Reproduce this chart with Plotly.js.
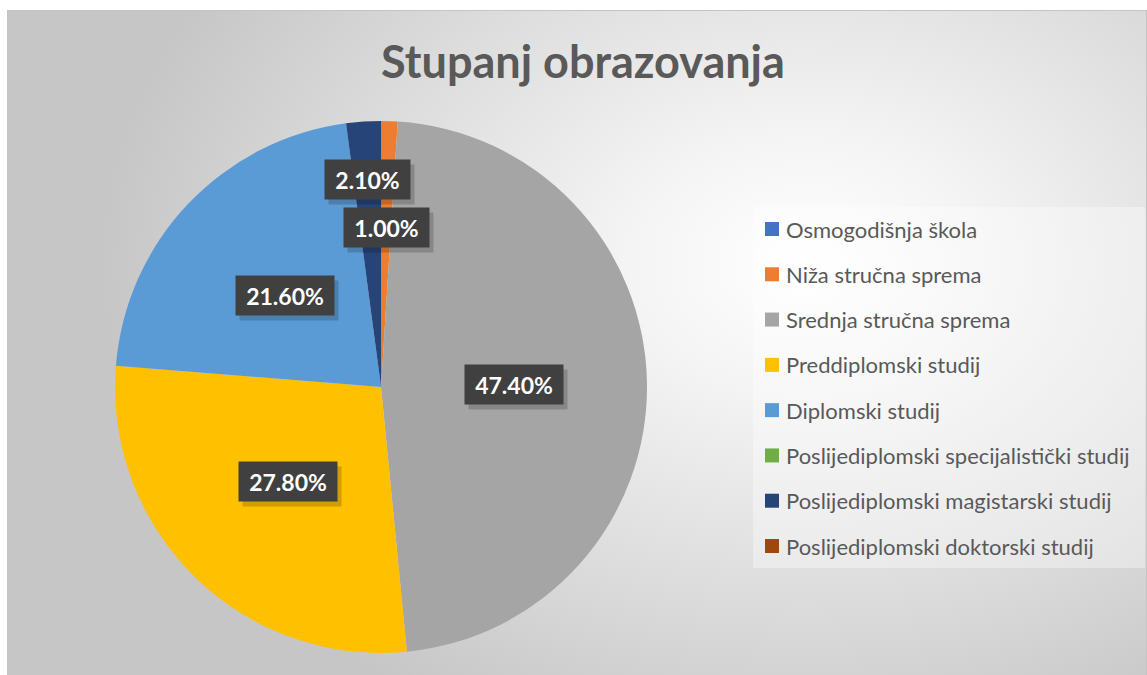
<!DOCTYPE html>
<html>
<head>
<meta charset="utf-8">
<script src="https://cdn.plot.ly/plotly-3.0.1.min.js"></script>
<style>
  html, body { margin:0; padding:0; background:#ffffff; }
  #bg { position:absolute; left:7px; top:10px; width:1138px; height:664px;
        border:1px solid #c4c4c4;
        background: radial-gradient(ellipse 62% 78% at 70% 38%, #ffffff 0%, #f4f4f4 25%, #dcdcdc 65%, #c6c6c6 100%); }
  #chart { position:absolute; left:0; top:0; width:1147px; height:675px; }
</style>
</head>
<body>
<div id="bg"></div>
<div id="chart"></div>
<script>
const categories = [
  "Osmogodišnja škola",
  "Niža stručna sprema",
  "Srednja stručna sprema",
  "Preddiplomski studij",
  "Diplomski studij",
  "Poslijediplomski specijalistički studij",
  "Poslijediplomski magistarski studij",
  "Poslijediplomski doktorski studij"
];
const values = [0, 1.0, 47.4, 27.8, 21.6, 0, 2.1, 0];
const colors = ["#4472C4", "#ED7D31", "#A5A5A5", "#FFC000", "#5B9BD5", "#70AD47", "#264478", "#9E480E"];
const chartTitle = "Stupanj obrazovanja";

const W = 1147, H = 675;
const FONT = "Lato, 'Open Sans', sans-serif";
const domX = [0.1003, 0.5641];
const domY = [0.0326, 0.8207];

// pie geometry in pixels (from the domain)
const cx = (domX[0] + domX[1]) / 2 * W;
const cy = (1 - (domY[0] + domY[1]) / 2) * H;
const r = Math.min((domX[1] - domX[0]) * W, (domY[1] - domY[0]) * H) / 2;

const total = values.reduce((a, b) => a + b, 0);
const annotations = [];
const shapes = [];

// data labels in dark boxes
let cum = 0, smallK = 0;
values.forEach((v, i) => {
  if (v <= 0) return;
  const mid = (cum + v / 2) / total * 2 * Math.PI; // clockwise from 12 o'clock
  cum += v;
  let f = 0.5;
  if (v / total < 0.05) { f = 0.6 + 0.18 * smallK; smallK++; }
  const px = cx + f * r * Math.sin(mid);
  const py = cy - f * r * Math.cos(mid);
  const txt = v.toFixed(2) + "%";
  const w = 13 * txt.length + 12;
  const common = {
    xref: "paper", yref: "paper", x: px / W, y: 1 - py / H,
    xanchor: "center", yanchor: "middle", showarrow: false,
    width: w, height: 31, borderpad: 4
  };
  // soft shadow box
  annotations.push(Object.assign({}, common, {
    text: " ", xshift: 4, yshift: -5, bgcolor: "rgba(0,0,0,0.18)",
    font: { family: FONT, size: 23, color: "rgba(0,0,0,0)" }
  }));
  annotations.push(Object.assign({}, common, {
    text: txt, bgcolor: "#404040",
    font: { family: FONT, size: 23, color: "#ffffff", weight: 700 }
  }));
});

// manual legend (Excel-like spacing)
const legX0 = 753, legX1 = 1145, legY0 = 207, legY1 = 568;
shapes.push({ type: "rect", xref: "paper", yref: "paper",
  x0: legX0 / W, x1: legX1 / W, y0: 1 - legY1 / H, y1: 1 - legY0 / H,
  fillcolor: "rgba(255,255,255,0.35)", line: { width: 0 }, layer: "below" });
const rowStep = (legY1 - legY0 - 44) / (categories.length - 1);
categories.forEach((c, i) => {
  const yc = legY0 + 22 + i * rowStep;
  shapes.push({ type: "rect", xref: "paper", yref: "paper",
    x0: 765 / W, x1: 779 / W, y0: 1 - (yc + 7) / H, y1: 1 - (yc - 7) / H,
    fillcolor: colors[i], line: { width: 0 } });
  annotations.push({ xref: "paper", yref: "paper", x: 784 / W, y: 1 - yc / H,
    xanchor: "left", yanchor: "middle", showarrow: false, text: c,
    font: { family: FONT, size: 22, color: "#595959" } });
});

const data = [{
  type: "pie",
  labels: categories,
  values: values,
  marker: { colors: colors, line: { width: 0 } },
  sort: false,
  direction: "clockwise",
  rotation: 0,
  textinfo: "none",
  hoverinfo: "label+value",
  domain: { x: domX, y: domY },
  showlegend: false
}];

const layout = {
  width: W, height: H,
  margin: { l: 0, r: 0, t: 0, b: 0 },
  paper_bgcolor: "rgba(0,0,0,0)",
  plot_bgcolor: "rgba(0,0,0,0)",
  title: { text: chartTitle, x: 583 / W, xanchor: "center", y: 1 - 62 / H, yanchor: "middle",
    font: { family: FONT, size: 45, color: "#595959", weight: 700 } },
  showlegend: false,
  annotations: annotations,
  shapes: shapes
};

Plotly.newPlot("chart", data, layout, { displayModeBar: false, staticPlot: true });
</script>
</body>
</html>
